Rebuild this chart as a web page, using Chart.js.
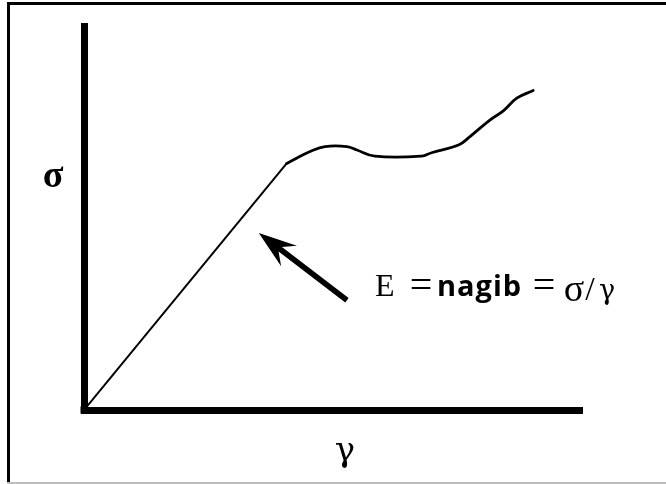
<!DOCTYPE html>
<html>
<head>
<meta charset="utf-8">
<script src="https://cdn.jsdelivr.net/npm/chart.js@4"></script>
<style>
  html, body { margin: 0; padding: 0; background: #fff; }
  #wrap { position: relative; width: 666px; height: 484px; overflow: hidden; }
  #c { position: absolute; left: 0; top: 0; }
  .frameL { position: absolute; left: 7px; top: 2px; width: 3px; height: 482px; background: #000; }
  .frameT { position: absolute; left: 7px; top: 2px; width: 659px; height: 3px; background: #000; }
  .frameB { position: absolute; left: 7px; top: 482px; width: 659px; height: 2px; background: #bdbdbd; }
</style>
</head>
<body>
<div id="wrap">
  <canvas id="c" width="666" height="484"></canvas>
  <div class="frameL"></div>
  <div class="frameT"></div>
  <div class="frameB"></div>
</div>
<script>
// ---- data (arbitrary strain / stress units) ----
const elasticStrain = [0, 4.07];
const elasticStress = [0, 6.42];
const plasticStrain = [4.07, 4.20, 4.54, 4.84, 5.28, 5.48, 5.84, 6.78, 6.98, 7.52, 7.75, 8.15, 8.42, 8.69, 9.02];
const plasticStress = [6.42, 6.51, 6.73, 6.86, 6.86, 6.77, 6.61, 6.61, 6.70, 6.90, 7.12, 7.55, 7.79, 8.12, 8.32];
const arrowTip  = [3.51, 4.61];
const arrowTail = [5.28, 2.86];
const axisLabelY = 'σ';
const axisLabelX = 'γ';
const formulaParts = ['E', '=', 'nagib', '=', 'σ', '/', 'γ'];

const toPts = (xs, ys) => xs.map((x, i) => ({ x: x, y: ys[i] }));

const overlay = {
  id: 'overlay',
  afterDatasetsDraw(chart) {
    const ctx = chart.ctx;
    const xs = chart.scales.x, ys = chart.scales.y;
    const ca = chart.chartArea;
    ctx.save();
    // close the corner of the two axes
    ctx.fillStyle = '#000';
    ctx.fillRect(ca.left - 3.5, ca.bottom - 3.5, 7, 7);

    // arrow
    const tx = xs.getPixelForValue(arrowTip[0]), ty = ys.getPixelForValue(arrowTip[1]);
    const bx = xs.getPixelForValue(arrowTail[0]), by = ys.getPixelForValue(arrowTail[1]);
    const dx = bx - tx, dy = by - ty, len = Math.hypot(dx, dy);
    const ux = dx / len, uy = dy / len;   // from tip toward tail
    const px = -uy, py = ux;
    const headLen = 38, headHalf = 13, notch = 27, shaftHalf = 2.8;
    ctx.beginPath();
    ctx.moveTo(tx, ty);
    ctx.lineTo(tx + ux * headLen + px * headHalf, ty + uy * headLen + py * headHalf);
    ctx.lineTo(tx + ux * notch + px * shaftHalf, ty + uy * notch + py * shaftHalf);
    ctx.lineTo(bx + px * shaftHalf, by + py * shaftHalf);
    ctx.lineTo(bx - px * shaftHalf, by - py * shaftHalf);
    ctx.lineTo(tx + ux * notch - px * shaftHalf, ty + uy * notch - py * shaftHalf);
    ctx.lineTo(tx + ux * headLen - px * headHalf, ty + uy * headLen - py * headHalf);
    ctx.closePath();
    ctx.fill();

    // texts
    ctx.fillStyle = '#000';
    ctx.textBaseline = 'alphabetic';
    const serif = '"Liberation Serif", "DejaVu Serif", serif';
    const dserif = '"DejaVu Serif", serif';
    const draw = (t, font, x, y, align, spacing) => {
      ctx.font = font; ctx.textAlign = align;
      ctx.letterSpacing = spacing || '0px';
      ctx.fillText(t, x, y);
    };
    draw(axisLabelY, 'bold 38px ' + serif, 53, 187, 'center');
    draw(axisLabelX, '34px ' + dserif, 345, 461, 'center');
    draw(formulaParts[0], '32px ' + serif, 375, 296, 'left');
    draw(formulaParts[1], '40px ' + serif, 421, 298, 'center');
    draw(formulaParts[2], 'bold 29px "Open Sans", Lato, sans-serif', 437, 296, 'left', '1px');
    draw(formulaParts[3], '40px ' + serif, 544, 298, 'center');
    draw(formulaParts[4], '38px ' + serif, 574, 301, 'center');
    draw(formulaParts[5], '34px ' + serif, 590, 300, 'center');
    draw(formulaParts[6], '27px ' + dserif, 607, 299, 'center');
    ctx.restore();
  }
};

new Chart(document.getElementById('c'), {
  type: 'line',
  data: {
    datasets: [
      { data: toPts(elasticStrain, elasticStress), borderColor: '#000', borderWidth: 2, pointRadius: 0, tension: 0 },
      { data: toPts(plasticStrain, plasticStress), borderColor: '#000', borderWidth: 2.8, pointRadius: 0, tension: 0.4, borderCapStyle: 'round', borderJoinStyle: 'round' }
    ]
  },
  options: {
    responsive: false,
    animation: false,
    devicePixelRatio: 1,
    layout: { padding: { left: 84, right: 84, top: 26, bottom: 74 } },
    plugins: { legend: { display: false }, tooltip: { enabled: false } },
    scales: {
      x: {
        type: 'linear', min: 0, max: 10,
        ticks: { display: false },
        grid: { display: false, drawTicks: false },
        border: { display: true, color: '#000', width: 7 }
      },
      y: {
        type: 'linear', min: 0, max: 10,
        ticks: { display: false },
        grid: { display: false, drawTicks: false },
        border: { display: true, color: '#000', width: 7 }
      }
    }
  },
  plugins: [overlay]
});
</script>
</body>
</html>
